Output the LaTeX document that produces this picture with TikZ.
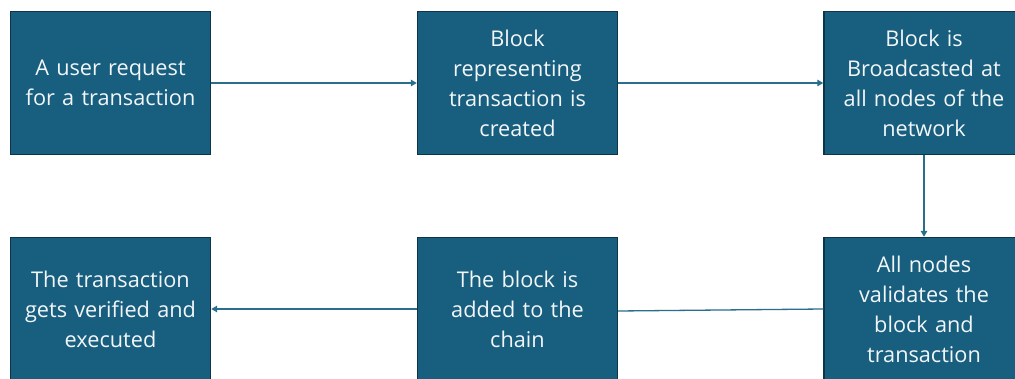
\documentclass[tikz,border=0pt]{standalone}
\usepackage{fontspec}
\setmainfont{Open Sans}
\usetikzlibrary{arrows.meta}
\definecolor{boxfill}{HTML}{185E7E}
\definecolor{boxedge}{HTML}{0E3547}
\definecolor{linkcol}{HTML}{2A6E8E}
\definecolor{boxtext}{HTML}{F2F6F8}
\tikzset{
  stepbox/.style={draw=boxedge, line width=1.4pt, fill=boxfill, text=boxtext,
    minimum width=200pt, minimum height=143pt, inner sep=0pt,
    align=center, text width=196pt,
    font=\fontsize{21.7}{30}\selectfont},
  link/.style={draw=linkcol, line width=1.3pt},
  linkarrow/.style={link, -{Triangle[length=6pt,width=6.5pt]}}
}
\begin{document}
\begin{tikzpicture}[x=1pt,y=1pt]
  \useasboundingbox (0,0) rectangle (1015,-379);
  \clip (0,0) rectangle (1015,-379);
  \fill[white] (0,0) rectangle (1015,-379);
  % top row
  \node[stepbox] (req)   at (110.5,-83) {A user request\\for a transaction};
  \node[stepbox] (make)  at (517.5,-83) {Block\\representing\\transaction is\\created};
  \node[stepbox] (cast)  at (924,-83)   {Block is\\Broadcasted at\\all nodes of the\\network};
  % bottom row
  \node[stepbox] (done)  at (110.5,-309) {The transaction\\gets verified and\\executed};
  \node[stepbox] (chain) at (517.5,-309) {The block is\\added to the\\chain};
  \node[stepbox] (check) at (924,-309)   {All nodes\\validates the\\block and\\transaction};
  % connectors
  \draw[linkarrow] (req.east) -- (make.west);
  \draw[linkarrow] (make.east) -- (cast.west);
  \draw[linkarrow] (cast.south) -- (check.north);
  \draw[link] (check.west) -- ([yshift=-2pt]chain.east);
  \draw[linkarrow] (chain.west) -- (done.east);
\end{tikzpicture}
\end{document}
